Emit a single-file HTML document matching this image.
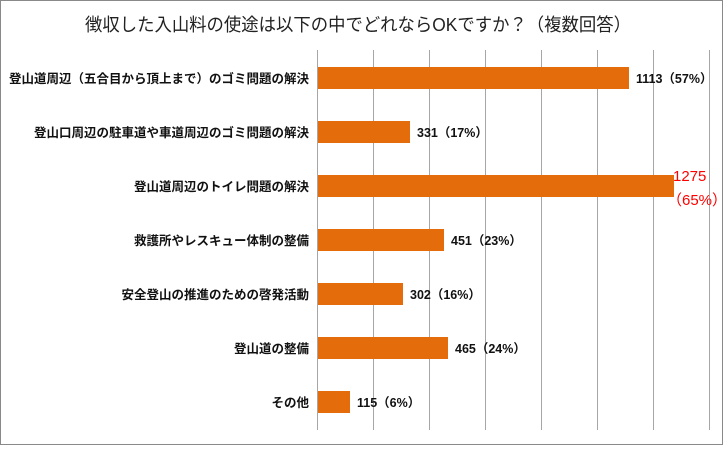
<!DOCTYPE html>
<html><head><meta charset="utf-8"><style>
body{margin:0;background:#fff}
svg text{font-family:"Liberation Sans","Noto Sans CJK JP",sans-serif}
</style></head><body>
<svg width="724" height="446" viewBox="0 0 724 446" xmlns="http://www.w3.org/2000/svg">
<rect x="0.5" y="0.5" width="722" height="444" fill="#fff" stroke="#898989"/>
<text x="85" y="31" font-size="18" textLength="546" lengthAdjust="spacingAndGlyphs" fill="#222">徴収した入山料の使途は以下の中でどれならOKですか？（複数回答）</text>
<g stroke="#a6a6a6" stroke-width="1">
<line x1="317.5" y1="50" x2="317.5" y2="430"/>
<line x1="373.5" y1="50" x2="373.5" y2="430"/>
<line x1="429.5" y1="50" x2="429.5" y2="430"/>
<line x1="485.5" y1="50" x2="485.5" y2="430"/>
<line x1="541.5" y1="50" x2="541.5" y2="430"/>
<line x1="597.5" y1="50" x2="597.5" y2="430"/>
<line x1="653.5" y1="50" x2="653.5" y2="430"/>
<line x1="709.5" y1="50" x2="709.5" y2="430"/>
</g>
<g fill="#e46c0a">
<rect x="318" y="67" width="311" height="22"/>
<rect x="318" y="121" width="92" height="22"/>
<rect x="318" y="175" width="356" height="22"/>
<rect x="318" y="229" width="126" height="22"/>
<rect x="318" y="283" width="85" height="22"/>
<rect x="318" y="337" width="130" height="22"/>
<rect x="318" y="391" width="32" height="22"/>
</g>
<g font-size="12.5" font-weight="bold" fill="#111" text-anchor="end">
<text x="309" y="83">登山道周辺（五合目から頂上まで）のゴミ問題の解決</text>
<text x="309" y="137">登山口周辺の駐車道や車道周辺のゴミ問題の解決</text>
<text x="309" y="191">登山道周辺のトイレ問題の解決</text>
<text x="309" y="245">救護所やレスキュー体制の整備</text>
<text x="309" y="299">安全登山の推進のための啓発活動</text>
<text x="309" y="353">登山道の整備</text>
<text x="309" y="407">その他</text>
</g>
<g font-size="12.5" font-weight="bold" fill="#111">
<text x="636" y="83">1113（57%）</text>
<text x="417" y="137">331（17%）</text>
<text x="451" y="245">451（23%）</text>
<text x="410" y="299">302（16%）</text>
<text x="455" y="353">465（24%）</text>
<text x="357" y="407">115（6%）</text>
</g>
<g font-size="15" fill="#ff0000">
<text x="673" y="181">1275</text>
<text x="667" y="205">（65%）</text>
</g>
</svg>
</body></html>
